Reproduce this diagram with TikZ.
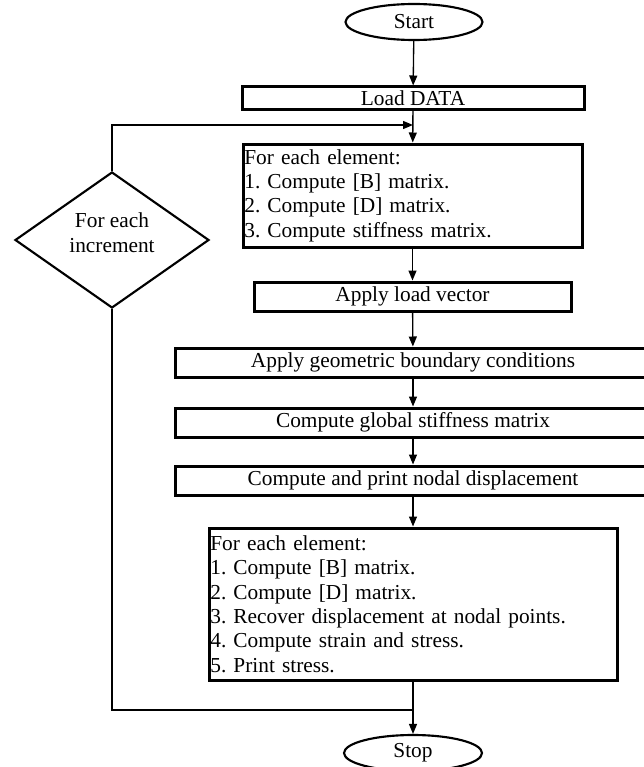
\documentclass[tikz,border=0pt]{standalone}
\usepackage{fontspec}
\setmainfont{Liberation Serif}
\usetikzlibrary{shapes.geometric,arrows.meta}
\frenchspacing

\begin{document}
\begin{tikzpicture}[x=0.75pt, y=-0.75pt, font=\fontsize{16}{18.3}\selectfont]
  \tikzstyle{term} = [ellipse, draw, line width=1.6pt, minimum width=102.75pt, minimum height=27pt, inner sep=0pt]
  \tikzstyle{proc} = [rectangle, draw, line width=2.25pt, minimum height=21.75pt, inner sep=0pt, text centered]
  \tikzstyle{list} = [rectangle, draw, line width=2.25pt, inner sep=1pt, align=left]
  \tikzstyle{decide} = [diamond, draw, line width=1.6pt, aspect=1.43, minimum width=145.5pt, minimum height=102pt, inner sep=0pt, text depth=11pt, align=center]
  \tikzstyle{arr} = [-{Triangle[length=7.5pt,width=6pt]}, line width=1pt]
  \tikzstyle{line} = [line width=1pt]

  \useasboundingbox (0,0) rectangle (643,767);

  \node [term] (start) at (414,22) {Start};
  \node [proc, minimum width=256.5pt, minimum height=16.5pt] (load) at (413,98) {Load DATA};
  \node [list, minimum width=254.25pt, minimum height=77.25pt, text width=252.25pt] (stiff) at (412.5,195.5)
    {For each element:\\1. Compute [B] matrix.\\2. Compute [D] matrix.\\3. Compute stiffness matrix.};
  \node [decide] (incr) at (112,240) {For each\\increment};
  \node [proc, minimum width=237.75pt] (loadvec) at (412.5,296.5) {Apply load vector};
  \node [proc, minimum width=356.25pt] (bound) at (413,362.5) {Apply geometric boundary conditions};
  \node [proc, minimum width=356.25pt] (global) at (413,422.5) {Compute global stiffness matrix};
  \node [proc, minimum width=356.25pt] (disp) at (413,480.5) {Compute and print nodal displacement};
  \node [list, minimum width=306pt, minimum height=114pt, text width=304pt] (stress) at (413,604)
    {For each element:\\1. Compute [B] matrix.\\2. Compute [D] matrix.\\3. Recover displacement at nodal points.\\4. Compute strain and stress.\\5. Print stress.};
  \node [term, minimum width=103.5pt] (stop) at (413,753) {Stop};

  \coordinate (loop) at (413,125);
  \coordinate (merge) at (413,710);

  \draw[arr] (start) -- (load);
  \draw[arr] (load) -- (stiff);
  \draw[arr] (incr.north) |- (loop);
  \draw[arr] (stiff) -- (loadvec);
  \draw[arr] (loadvec) -- (bound);
  \draw[arr] (bound) -- (global);
  \draw[arr] (global) -- (disp);
  \draw[arr] (disp) -- (stress);
  \draw[arr] (stress) -- (stop);
  \draw[line] (incr.south) |- (merge);
\end{tikzpicture}
\end{document}
